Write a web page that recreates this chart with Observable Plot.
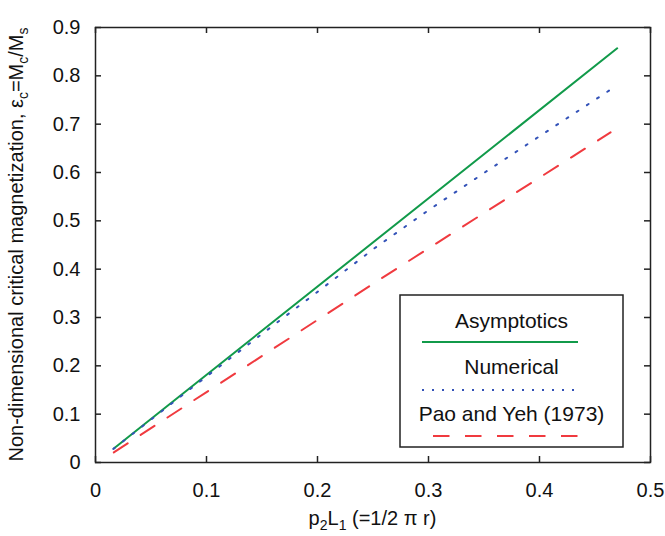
<!DOCTYPE html>
<html>
<head>
<meta charset="utf-8">
<script src="https://cdn.jsdelivr.net/npm/d3@7"></script>
<script src="https://cdn.jsdelivr.net/npm/@observablehq/plot@0.6"></script>
<style>
  html, body { margin: 0; padding: 0; background: #fff; }
  #chart { width: 665px; height: 536px; }
  svg { font-family: "Liberation Sans", Arial, sans-serif; }
</style>
</head>
<body>
<div id="chart"></div>
<script>
// ---- Data ----
const asympX = [0.0165, 0.470];
const asympY = [0.029, 0.857];

const numX = [0.016, 0.1, 0.15, 0.2, 0.25, 0.3, 0.35, 0.4, 0.463];
const numY = [0.028, 0.178, 0.266, 0.353, 0.441, 0.522, 0.599, 0.675, 0.770];

const paoX = [0.0165, 0.259, 0.464];
const paoY = [0.021, 0.383, 0.683];

const xTicks = [0, 0.1, 0.2, 0.3, 0.4, 0.5];
const yTicks = [0, 0.1, 0.2, 0.3, 0.4, 0.5, 0.6, 0.7, 0.8, 0.9];

const seriesNames = ["Asymptotics", "Numerical", "Pao and Yeh (1973)"];
const seriesColors = ["#119a4a", "#3352b8", "#f03a3f"];

// ---- Build tables ----
const asymp = asympX.map((x, i) => ({x, y: asympY[i]}));
const num = numX.map((x, i) => ({x, y: numY[i]}));
const pao = paoX.map((x, i) => ({x, y: paoY[i]}));

const W = 665, H = 536;
const mL = 95, mR = 15, mT = 27, mB = 74;
const plotH = H - mT - mB;
const plotW = W - mL - mR;
const tick = 6;
const fs = 20;
const fmt = d => String(d);

const chart = Plot.plot({
  width: W,
  height: H,
  marginLeft: mL,
  marginRight: mR,
  marginTop: mT,
  marginBottom: mB,
  style: {fontFamily: "Liberation Sans, Arial, sans-serif", fontSize: fs + "px", color: "#111", background: "#fff"},
  x: {domain: [0, 0.5]},
  y: {domain: [0, 0.9]},
  marks: [
    Plot.line(asymp, {x: "x", y: "y", stroke: seriesColors[0], strokeWidth: 2}),
    Plot.line(num, {x: "x", y: "y", stroke: seriesColors[1], strokeWidth: 2, strokeDasharray: "2,10.2"}),
    Plot.line(pao, {x: "x", y: "y", stroke: seriesColors[2], strokeWidth: 2, strokeDasharray: "16.5,15.5"}),
    // inward ticks on all four sides
    Plot.tickX(xTicks, {x: d => d, stroke: "#222", strokeWidth: 1.5, insetTop: plotH - tick}),
    Plot.tickX(xTicks, {x: d => d, stroke: "#222", strokeWidth: 1.5, insetBottom: plotH - tick}),
    Plot.tickY(yTicks, {y: d => d, stroke: "#222", strokeWidth: 1.5, insetRight: plotW - tick}),
    Plot.tickY(yTicks, {y: d => d, stroke: "#222", strokeWidth: 1.5, insetLeft: plotW - tick}),
    Plot.axisX(xTicks, {tickSize: 0, tickPadding: 20, label: null, fontSize: fs, tickFormat: fmt}),
    Plot.axisY(yTicks, {tickSize: 0, tickPadding: 15, label: null, fontSize: fs, tickFormat: fmt}),
    Plot.frame({stroke: "#222", strokeWidth: 1.5})
  ]
});

document.getElementById("chart").appendChild(chart);

// ---- Axis titles with subscripts ----
const svg = d3.select(chart);
const xt = svg.append("text")
  .attr("x", mL + plotW / 2)
  .attr("y", 525)
  .attr("text-anchor", "middle")
  .attr("font-size", fs)
  .attr("fill", "#111");
xt.append("tspan").text("p");
xt.append("tspan").attr("dy", 5).attr("font-size", 14).text("2");
xt.append("tspan").attr("dy", -5).text("L");
xt.append("tspan").attr("dy", 5).attr("font-size", 14).text("1");
xt.append("tspan").attr("dy", -5).text(" (=1/2 \u03c0 r)");

const yt = svg.append("text")
  .attr("transform", `translate(23,${mT + plotH / 2}) rotate(-90)`)
  .attr("text-anchor", "middle")
  .attr("font-size", fs)
  .attr("fill", "#111");
yt.append("tspan").text("Non-dimensional critical magnetization, \u03b5");
yt.append("tspan").attr("dy", 5).attr("font-size", 14).text("c");
yt.append("tspan").attr("dy", -5).text("=M");
yt.append("tspan").attr("dy", 5).attr("font-size", 14).text("c");
yt.append("tspan").attr("dy", -5).text("/M");
yt.append("tspan").attr("dy", 5).attr("font-size", 14).text("s");

// ---- Legend box ----
const lg = svg.append("g");
const lx = 400, ly = 295, lw = 223, lh = 152;
lg.append("rect").attr("x", lx).attr("y", ly).attr("width", lw).attr("height", lh)
  .attr("fill", "#fff").attr("stroke", "#222").attr("stroke-width", 1.5);
const cx = lx + lw / 2;
const textYs = [321, 367, 414];
const lineYs = [342, 390, 436];
const dashes = [null, "2,8", "16.5,15.5"];
const lineX1 = [422, 422, 433];
seriesNames.forEach((name, i) => {
  lg.append("text").attr("x", cx).attr("y", textYs[i]).attr("dy", "0.35em")
    .attr("text-anchor", "middle").attr("font-size", 21).attr("fill", "#111").text(name);
  const ln = lg.append("line").attr("x1", lineX1[i]).attr("x2", 578)
    .attr("y1", lineYs[i]).attr("y2", lineYs[i])
    .attr("stroke", seriesColors[i]).attr("stroke-width", 2);
  if (dashes[i]) ln.attr("stroke-dasharray", dashes[i]);
});
</script>
</body>
</html>
